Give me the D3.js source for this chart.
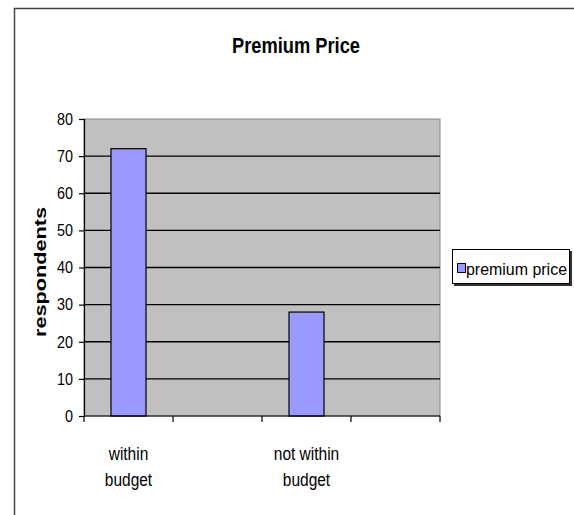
<!doctype html>
<html>
  <head>
    <meta charset="UTF-8"/>
    <title>Premium Price</title>
    <script src="https://d3js.org/d3.v7.min.js"></script>
    <style>
      body { margin: 0; padding: 0; background: #fff; }
      svg text { font-family: "Liberation Sans Narrow", "Arial Narrow", "Liberation Sans", Arial, sans-serif; }
    </style>
  </head>
  <body>
    <svg id="chart" width="574" height="515"></svg>
    <script>
      // data
      const categories = ["within budget", "", "not within budget", ""];
      const respondents = [72, null, 28, null];
      const yTicks = [0, 10, 20, 30, 40, 50, 60, 70, 80];
      const seriesName = "premium price";

      const svg = d3.select("#chart");
      const plotL = 84, plotR = 440, plotT = 119, plotB = 416;

      // squeeze text horizontally (no narrow font installed)
      function narrow(sel, f) {
        sel.each(function () {
          const w = this.getComputedTextLength();
          d3.select(this).attr("textLength", w * f).attr("lengthAdjust", "spacingAndGlyphs");
        });
      }

      // outer frame
      svg.append("path")
        .attr("d", "M14.5,515 V8.5 H574")
        .attr("fill", "none").attr("stroke", "#444").attr("stroke-width", 1.5);

      svg.append("text")
        .attr("x", 296).attr("y", 53)
        .attr("text-anchor", "middle")
        .attr("font-size", 22).attr("font-weight", "bold")
        .attr("textLength", 128).attr("lengthAdjust", "spacingAndGlyphs")
        .text("Premium Price");

      const x = d3.scaleBand().domain(d3.range(categories.length)).range([plotL, plotR]);
      const y = d3.scaleLinear().domain([0, 80]).range([plotB, plotT]);

      svg.append("rect")
        .attr("x", plotL).attr("y", plotT)
        .attr("width", plotR - plotL).attr("height", plotB - plotT)
        .attr("fill", "#c0c0c0").attr("stroke", "#888").attr("stroke-width", 1);

      // gridlines
      svg.selectAll(".grid").data(yTicks.filter(d => d > 0 && d < 80)).join("line")
        .attr("x1", plotL).attr("x2", plotR)
        .attr("y1", d => y(d)).attr("y2", d => y(d))
        .attr("stroke", "#000").attr("stroke-width", 1.4);

      // bars
      const barW = 35;
      svg.selectAll(".bar").data(respondents.map((v, i) => ({v, i})).filter(d => d.v != null)).join("rect")
        .attr("x", d => x(d.i) + x.bandwidth() / 2 - barW / 2)
        .attr("y", d => y(d.v))
        .attr("width", barW)
        .attr("height", d => y(0) - y(d.v))
        .attr("fill", "#9999ff").attr("stroke", "#000").attr("stroke-width", 1.2);

      // y axis
      const yAxis = svg.append("g")
        .attr("transform", `translate(${plotL},0)`)
        .call(d3.axisLeft(y).tickValues(yTicks).tickSize(5).tickPadding(6));
      yAxis.select(".domain").attr("stroke", "#000").attr("stroke-width", 1.2);
      yAxis.selectAll("line").attr("stroke-width", 1.2);
      yAxis.selectAll("text").attr("font-size", 16.5).attr("fill", "#000")
        .style("font-family", "'Liberation Sans Narrow', 'Liberation Sans', sans-serif")
        .call(narrow, 0.87);

      // x axis with ticks at band edges
      const edges = d3.range(categories.length + 1).map(i => plotL + i * x.bandwidth());
      svg.append("line")
        .attr("x1", plotL).attr("x2", plotR).attr("y1", plotB).attr("y2", plotB)
        .attr("stroke", "#000").attr("stroke-width", 1.2);
      svg.selectAll(".xtick").data(edges).join("line")
        .attr("x1", d => d).attr("x2", d => d)
        .attr("y1", plotB).attr("y2", plotB + 6)
        .attr("stroke", "#000").attr("stroke-width", 1.2);

      categories.forEach((c, i) => {
        if (!c) return;
        const words = c.split(" ");
        const lines = [words.slice(0, -1).join(" "), words[words.length - 1]];
        const cx = x(i) + x.bandwidth() / 2;
        lines.forEach((l, k) => svg.append("text")
          .attr("x", cx).attr("y", 460 + k * 26)
          .attr("text-anchor", "middle").attr("font-size", 18)
          .text(l).call(narrow, 0.86));
      });

      svg.append("text")
        .attr("transform", "translate(46,272) rotate(-90)")
        .attr("text-anchor", "middle")
        .attr("font-size", 17).attr("font-weight", "bold")
        .attr("textLength", 130).attr("lengthAdjust", "spacingAndGlyphs")
        .text("respondents");

      // legend
      const lg = svg.append("g");
      lg.append("rect").attr("x", 454).attr("y", 251).attr("width", 118).attr("height", 35).attr("fill", "#333");
      lg.append("rect").attr("x", 452.5).attr("y", 249.5).attr("width", 117).attr("height", 34)
        .attr("fill", "#fff").attr("stroke", "#000");
      lg.append("rect").attr("x", 457.5).attr("y", 263.5).attr("width", 8).attr("height", 9)
        .attr("fill", "#9999ff").attr("stroke", "#000");
      lg.append("text").attr("x", 466).attr("y", 275).attr("font-size", 17)
        .attr("textLength", 101).attr("lengthAdjust", "spacingAndGlyphs")
        .text(seriesName);
    </script>
  </body>
</html>
